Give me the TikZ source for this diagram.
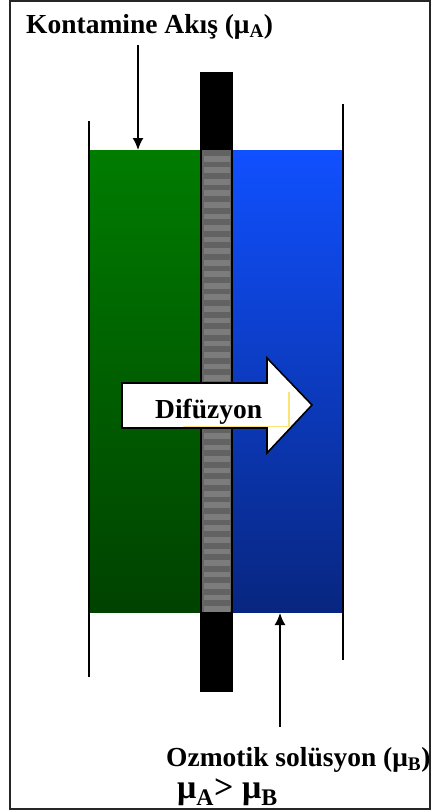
\documentclass[tikz,border=0pt]{standalone}
\usepackage{fontspec}
\setmainfont{Liberation Serif}
\usepackage{tikz}
\usetikzlibrary{arrows.meta}
\definecolor{greentop}{RGB}{0,124,0}
\definecolor{greenbot}{RGB}{0,66,0}
\definecolor{bluetop}{RGB}{16,80,255}
\definecolor{bluebot}{RGB}{8,38,128}
\definecolor{stripelight}{RGB}{124,124,124}
\definecolor{stripedark}{RGB}{98,98,98}
\definecolor{glint}{RGB}{250,228,120}
\tikzset{
  wall/.style={line width=2pt},
  pointer/.style={line width=1.6pt,-{Latex[length=12pt,width=11pt]}},
  label/.style={inner sep=0pt,font=\bfseries\fontsize{27.5}{30}\selectfont}
}

\begin{document}
\begin{tikzpicture}[x=1pt,y=-1pt]
\useasboundingbox (0,0) rectangle (433,811);
\fill[white] (0,0) rectangle (433,811);
\draw[line width=1.2pt,black!85] (10,1) rectangle (430,809);
\shade[top color=greentop,bottom color=greenbot] (89,150) rectangle (200,612);
\shade[top color=bluetop,bottom color=bluebot] (233,150) rectangle (343,612);
\fill[black] (200,72) rectangle (233,692);
\fill[stripelight] (202,150) rectangle (231,612);
\foreach \i in {0,...,39}
  \fill[stripedark] (202,150+\i*11.55) rectangle ++(29,5.8);
\fill[black!60] (202,150) rectangle (203.5,612);
\fill[black!60] (229.5,150) rectangle (231,612);
\draw[wall] (89,121) -- (89,677);
\draw[wall] (343,104) -- (343,660);
\draw[line width=1.6pt,fill=white,line join=miter]
  (122,383) -- (267,383) -- (267,358) -- (312,405) -- (267,453)
  -- (267,428) -- (122,428) -- cycle;
\draw[glint,line width=1.2pt] (183,426.5) -- (289,426.5) -- (289,392);
\node[label,anchor=base west] (difuzyon) at (155,418) {Difüzyon};
\node[label,anchor=base west] (akis) at (26,33) {Kontamine Akış (μ\textsubscript{A})};
\node[label,anchor=base west] (ozmotik) at (166,766) {Ozmotik solüsyon (μ\textsubscript{B})};
\node[inner sep=0pt,anchor=base west,font=\bfseries\fontsize{34}{36}\selectfont] (esitsizlik)
  at (177,798) {μ\textsubscript{A}> μ\textsubscript{B}};
\coordinate (akisuc) at (138,150);
\coordinate (ozmotikuc) at (280,613);
\draw[pointer] (akis.south -| akisuc) ++(0,6) -- (akisuc);
\draw[pointer] (ozmotik.north -| ozmotikuc) ++(0,-20) -- (ozmotikuc);
\end{tikzpicture}
\end{document}
